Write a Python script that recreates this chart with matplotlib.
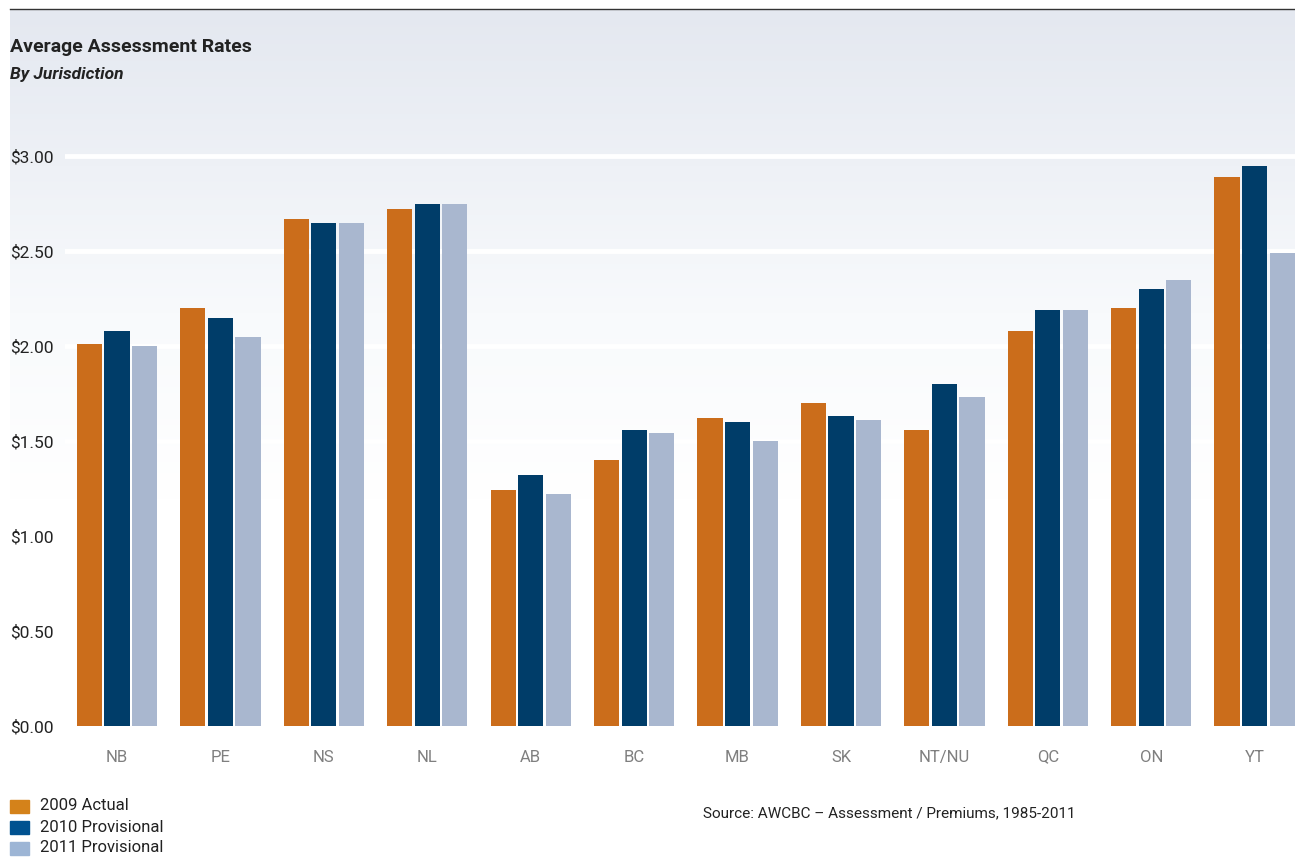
"""
Average assessment rates by jurisdiction, grouped bars for 2009-2011.
"""

import numpy as np
import matplotlib
matplotlib.use("Agg")
import matplotlib.pyplot as plt
import matplotlib.patches as mpatches
from matplotlib.colors import LinearSegmentedColormap

plt.rcParams["font.family"] = ["Roboto", "DejaVu Sans"]

# ── Data ──────────────────────────────────────────────────────────────────────

jurisdictions = ["NB", "PE", "NS", "NL", "AB", "BC", "MB", "SK",
                 "NT/NU", "QC", "ON", "YT"]
rates_2009 = [2.01, 2.20, 2.67, 2.72, 1.24, 1.40, 1.62, 1.70, 1.56, 2.08, 2.20, 2.89]
rates_2010 = [2.08, 2.15, 2.65, 2.75, 1.32, 1.56, 1.60, 1.63, 1.80, 2.19, 2.30, 2.95]
rates_2011 = [2.00, 2.05, 2.65, 2.75, 1.22, 1.54, 1.50, 1.61, 1.73, 2.19, 2.35, 2.49]
series_labels = ["2009 Actual", "2010 Provisional", "2011 Provisional"]
yticks = [0.0, 0.5, 1.0, 1.5, 2.0, 2.5, 3.0]

BAR_COLORS = ["#CB6D1B", "#003D69", "#A9B7CF"]
LEGEND_COLORS = ["#D4821A", "#005290", "#9DB5D5"]

W, H = 1295, 858
fig = plt.figure(figsize=(W / 100, H / 100), dpi=100)

# ── Background gradient panel ─────────────────────────────────────────────────

bg = fig.add_axes([10 / W, (H - 500) / H, 1 - 10 / W, 491 / H], zorder=0)
cmap = LinearSegmentedColormap.from_list(
    "bg", [(0.0, "#E4E8F0"), (0.32, "#EEF1F6"), (0.62, "#F8FAFC"), (1.0, "#FFFFFF")])
grad = np.linspace(0, 1, 256).reshape(-1, 1)
bg.imshow(grad, aspect="auto", cmap=cmap, extent=[0, 1, 1, 0])
bg.set_xlim(0, 1)
bg.set_ylim(1, 0)
bg.axis("off")

# Top rule
fig.add_artist(plt.Line2D([10 / W, 1.0], [(H - 9) / H] * 2,
                          color="#333333", linewidth=1.0))

# ── Main axes ─────────────────────────────────────────────────────────────────

ax = fig.add_axes([65 / W, (H - 726) / H, 1 - 65 / W, 586 / H], zorder=1)
ax.patch.set_alpha(0)

x = np.arange(len(jurisdictions))
bw = 0.243
step = 0.267
for i, (vals, col) in enumerate(zip([rates_2009, rates_2010, rates_2011], BAR_COLORS)):
    ax.bar(x + (i - 1) * step, vals, width=bw, color=col, zorder=3)

ax.set_ylim(0, 3.0 * 586 / 570)
ax.set_xlim(-0.503, 11.39)
ax.set_yticks(yticks)
ax.set_yticklabels([f"${v:.2f}" for v in yticks], fontsize=12.5, color="#222222",
                   ha="left")
ax.set_xticks(x)
ax.set_xticklabels(jurisdictions, fontsize=12, color="#7F7F7F")
ax.tick_params(axis="both", length=0)
ax.tick_params(axis="x", pad=17)
ax.tick_params(axis="y", pad=55 * 72 / 100)
ax.grid(axis="y", color="white", linewidth=3.5, zorder=1)
for s in ax.spines.values():
    s.set_visible(False)

# ── Titles ────────────────────────────────────────────────────────────────────

fig.text(10 / W, 1 - 47 / H, "Average Assessment Rates", fontsize=14,
         fontweight="bold", color="#222222", va="center", ha="left")
fig.text(10 / W, 1 - 74 / H, "By Jurisdiction", fontsize=12.5,
         fontweight="bold", fontstyle="italic", color="#222222",
         va="center", ha="left")

# ── Legend and source ─────────────────────────────────────────────────────────

for i, (c, lab) in enumerate(zip(LEGEND_COLORS, series_labels)):
    yc = 806 + 21 * i
    fig.add_artist(mpatches.Rectangle((10 / W, (H - yc - 7) / H), 19 / W, 13 / H,
                                      color=c, transform=fig.transFigure))
    fig.text(40 / W, 1 - yc / H, lab, fontsize=12, color="#222222",
             va="center", ha="left")

fig.text(703 / W, 1 - 813 / H, "Source: AWCBC \u2013 Assessment / Premiums, 1985-2011",
         fontsize=11, color="#222222", va="center", ha="left")

fig.savefig("out.png", dpi=100)
